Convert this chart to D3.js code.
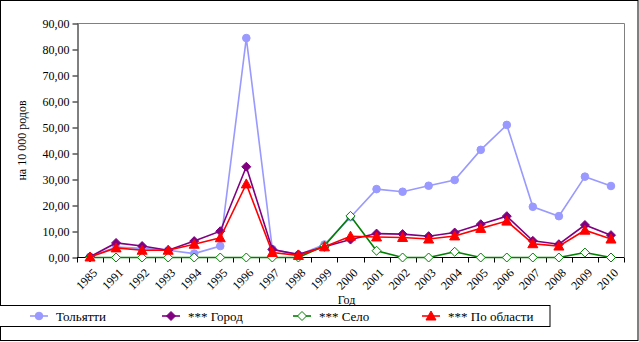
<!DOCTYPE html>
<html>
<head>
<meta charset="utf-8">
<script src="https://cdn.jsdelivr.net/npm/d3@7"></script>
<style>
  body { margin: 0; background: #fff; }
</style>
</head>
<body>
<svg id="chart" width="639" height="342"></svg>
<script>
// Годы (категории)
const years = ['1985', '1991', '1992', '1993', '1994', '1995', '1996', '1997', '1998', '1999', '2000',
               '2001', '2002', '2003', '2004', '2005', '2006', '2007', '2008', '2009', '2010'];

// Значения рядов
const tolyatti = [0.3, 4.0, 3.5, 2.8, 1.5, 4.4, 84.4, 3.2, 1.0, 5.0, 15.5,
                  26.3, 25.3, 27.6, 29.8, 41.4, 51.0, 19.5, 15.9, 31.1, 27.5];
const gorod    = [0.3, 5.6, 4.4, 2.8, 6.3, 10.1, 34.9, 3.1, 1.2, 4.1, 6.9,
                  9.2, 9.0, 8.2, 9.6, 12.8, 15.9, 6.4, 5.1, 12.5, 8.6];
const selo     = [0, 0, 0, 0, 0, 0, 0, 0, 0, 4.5, 16.0,
                  2.6, 0, 0, 2.2, 0, 0, 0, 0, 1.9, 0];
const oblast   = [0.2, 3.7, 2.8, 2.8, 5.1, 7.6, 28.3, 1.9, 0.8, 4.1, 8.2,
                  7.9, 7.7, 7.1, 8.3, 11.2, 14.0, 5.3, 4.4, 10.5, 7.1];

const yTicks = [0, 10, 20, 30, 40, 50, 60, 70, 80, 90];

const series = [
    { name: 'Тольятти',        values: tolyatti, color: '#9999FF', marker: 'circle' },
    { name: '*** Город',       values: gorod,    color: '#800080', marker: 'diamond' },
    { name: '*** Село',        values: selo,     color: '#008000', marker: 'diamondOpen' },
    { name: '*** По области',  values: oblast,   color: '#FF0000', marker: 'triangle' }
];

const FONT = "'Liberation Serif', 'DejaVu Serif', 'Noto Serif', 'Times New Roman', serif";

const svg = d3.select('#chart');

// Внешняя рамка
svg.append('rect')
   .attr('x', 0.5).attr('y', 0.5)
   .attr('width', 637.5).attr('height', 340)
   .attr('fill', '#fff')
   .attr('stroke', '#000');

const plot = { left: 77, top: 23.5, right: 624, bottom: 257.5 };

const x = d3.scaleBand()
            .domain(years)
            .range([plot.left, plot.right]);

const y = d3.scaleLinear()
            .domain([0, 90])
            .range([plot.bottom, plot.top]);

// Рамка области построения (серая сверху и справа)
svg.append('path')
   .attr('d', `M${plot.left},${plot.top}H${plot.right + 0.5}V${plot.bottom}`)
   .attr('fill', 'none')
   .attr('stroke', '#808080');

// Ось Y
const yAxis = svg.append('g')
   .attr('transform', `translate(${plot.left + 0.5},0)`)
   .call(d3.axisLeft(y).tickValues(yTicks).tickSize(5).tickSizeOuter(0)
           .tickFormat(d => d3.format('.2f')(d).replace('.', ',')));
yAxis.attr('font-family', null);
yAxis.select('.domain').attr('stroke', '#000');
yAxis.selectAll('text').attr('font-size', 12).style('font-family', FONT)
     .attr('fill', '#000').attr('x', -8);

// Ось X: засечки на границах категорий
const xAxis = svg.append('g')
   .attr('transform', `translate(0,${plot.bottom})`);
xAxis.append('line')
   .attr('x1', plot.left).attr('x2', plot.right)
   .attr('stroke', '#000');
xAxis.selectAll('.tick')
   .data(years.concat(['end']))
   .join('line')
   .attr('x1', (d, i) => Math.round(plot.left + i * x.bandwidth()) + 0.5)
   .attr('x2', (d, i) => Math.round(plot.left + i * x.bandwidth()) + 0.5)
   .attr('y1', 0).attr('y2', 5)
   .attr('stroke', '#000');
xAxis.selectAll('text')
   .data(years)
   .join('text')
   .attr('transform', d => `translate(${x(d) + x.bandwidth() / 2 + 2},${10}) rotate(-45)`)
   .attr('text-anchor', 'end')
   .attr('dy', '0.7em')
   .attr('font-size', 12)
   .style('font-family', FONT)
   .text(d => d);

// Подписи осей
svg.append('text')
   .attr('transform', `translate(26,${(plot.top + plot.bottom) / 2}) rotate(-90)`)
   .attr('text-anchor', 'middle')
   .attr('font-size', 12)
   .style('font-family', FONT)
   .text('на 10 000 родов');

svg.append('text')
   .attr('x', (plot.left + plot.right) / 2 - 4)
   .attr('y', 304)
   .attr('text-anchor', 'middle')
   .attr('font-size', 12)
   .style('font-family', FONT)
   .text('Год');

// Маркеры
function drawMarker(g, type, color) {
    if (type === 'circle') {
        g.append('circle').attr('r', 3.8).attr('fill', color).attr('stroke', color);
    } else if (type === 'diamond') {
        g.append('path').attr('d', 'M0,-4.5L4.5,0L0,4.5L-4.5,0Z').attr('fill', color).attr('stroke', color);
    } else if (type === 'diamondOpen') {
        g.append('path').attr('d', 'M0,-4.5L4.5,0L0,4.5L-4.5,0Z').attr('fill', '#fff').attr('stroke', color);
    } else if (type === 'triangle') {
        g.append('path').attr('d', 'M0,-5L5,4L-5,4Z').attr('fill', color).attr('stroke', color);
    }
}

const line = d3.line()
               .x((d, i) => x(years[i]) + x.bandwidth() / 2)
               .y(d => y(d));

series.forEach(s => {
    const g = svg.append('g');
    g.append('path')
     .datum(s.values)
     .attr('fill', 'none')
     .attr('stroke', s.color)
     .attr('stroke-width', 1.6)
     .attr('d', line);
    s.values.forEach((v, i) => {
        const m = g.append('g')
                   .attr('transform', `translate(${x(years[i]) + x.bandwidth() / 2},${y(v)})`);
        drawMarker(m, s.marker, s.color);
    });
});

// Легенда
const legend = svg.append('g');
legend.append('rect')
      .attr('x', -1).attr('y', 305.5)
      .attr('width', 551).attr('height', 21)
      .attr('fill', '#fff')
      .attr('stroke', '#000');

const legendX = [39, 171, 302, 431];
series.forEach((s, i) => {
    const g = legend.append('g').attr('transform', `translate(${legendX[i]},316)`);
    g.append('line').attr('x1', -9).attr('x2', 9).attr('stroke', s.color).attr('stroke-width', 1.6);
    drawMarker(g, s.marker, s.color);
    g.append('text')
     .attr('x', 17)
     .attr('dy', '0.35em')
     .attr('font-size', 13)
     .style('font-family', FONT)
     .text(s.name);
});
</script>
</body>
</html>
